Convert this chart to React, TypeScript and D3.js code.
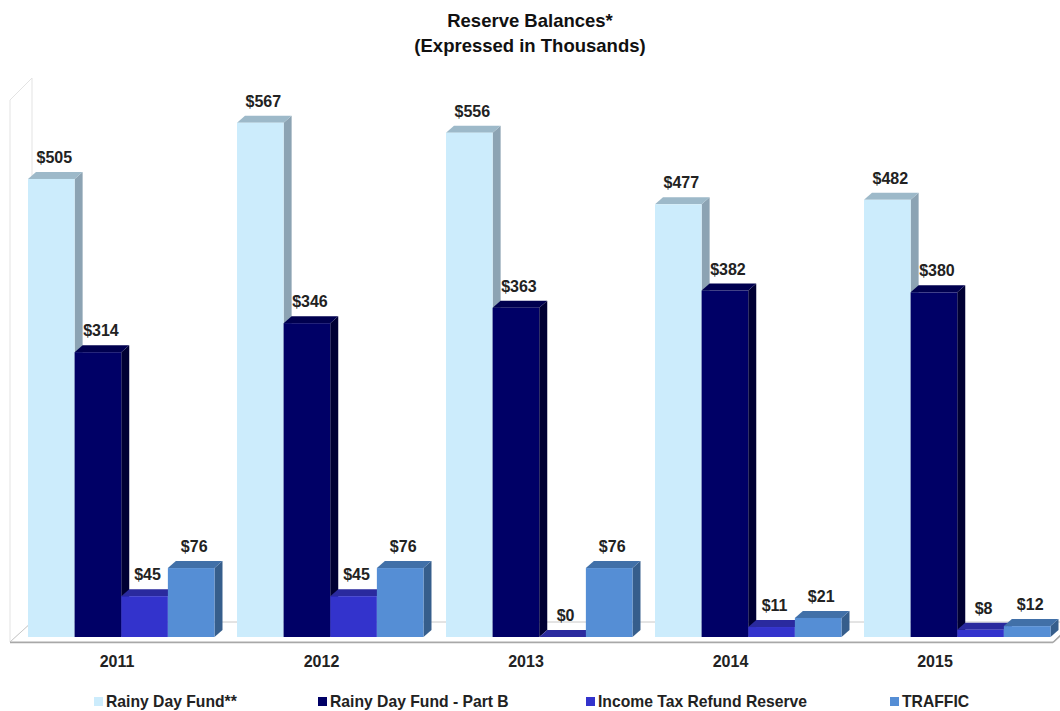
import React from "react";
import * as d3 from "d3";

const years = ["2011", "2012", "2013", "2014", "2015"];
const seriesNames = ["Rainy Day Fund**", "Rainy Day Fund - Part B", "Income Tax Refund Reserve", "TRAFFIC"];
const rainyDay = [505, 567, 556, 477, 482];
const rainyDayB = [314, 346, 363, 382, 380];
const incomeTax = [45, 45, 0, 11, 8];
const traffic = [76, 76, 76, 21, 12];
const seriesValues = [rainyDay, rainyDayB, incomeTax, traffic];

const frontColors = ["#CCECFC", "#000066", "#3333CC", "#558ED5"];
const topColors = ["#9DB9C9", "#00004F", "#2A2A9E", "#4170A8"];
const sideColors = ["#8CA3B3", "#000033", "#22227F", "#365E8C"];

const W = 1060;
const H = 711;
const DX = 8;
const DY = 7;
const BASE = 637;

export default function App() {
  const x0 = d3.scaleBand<string>().domain(years).range([28, 1050.5]).paddingInner(0.1077).paddingOuter(0);
  const x1 = d3.scaleBand<number>().domain(d3.range(seriesNames.length)).range([0, x0.bandwidth()]).padding(0);
  const y = d3.scaleLinear().domain([0, 600]).range([BASE, BASE - 600 * 0.907]);
  const xLabel = d3.scalePoint<string>().domain(years).range([117, 935]);

  const font = "'Liberation Sans', Arial, Helvetica, sans-serif";

  const bars: React.ReactNode[] = [];
  years.forEach((yr, gi) => {
    seriesValues.forEach((vals, si) => {
      const v = vals[gi];
      const x = (x0(yr) as number) + (x1(si) as number);
      const w = x1.bandwidth();
      const yv = y(v);
      const top = `${x},${yv} ${x + DX},${yv - DY} ${x + w + DX},${yv - DY} ${x + w},${yv}`;
      const side = `${x + w},${yv} ${x + w + DX},${yv - DY} ${x + w + DX},${BASE - DY} ${x + w},${BASE}`;
      bars.push(
        <g key={`${gi}-${si}`}>
          <polygon points={side} fill={sideColors[si]} />
          <polygon points={top} fill={topColors[si]} />
          <rect x={x} y={yv} width={w} height={BASE - yv} fill={frontColors[si]} />
        </g>
      );
    });
  });

  const labels: React.ReactNode[] = [];
  years.forEach((yr, gi) => {
    seriesValues.forEach((vals, si) => {
      const v = vals[gi];
      const x = (x0(yr) as number) + (x1(si) as number) + x1.bandwidth() / 2 + 3;
      labels.push(
        <text key={`l${gi}-${si}`} x={x} y={y(v) - 16} textAnchor="middle" fontSize={16} fontWeight="bold" fill="#222" fontFamily={font}>
          {`$${v}`}
        </text>
      );
    });
  });

  const legendX = [94, 318, 586, 890];

  return (
    <svg width={W} height={H} style={{ position: "absolute", left: 0, top: 0, background: "#fff" }}>
      <rect x={0} y={0} width={W} height={H} fill="#fff" />
      <text x={530} y={27} textAnchor="middle" fontSize={18.5} fontWeight="bold" fill="#111" fontFamily={font}>
        Reserve Balances*
      </text>
      <text x={530} y={52} textAnchor="middle" fontSize={18.5} fontWeight="bold" fill="#111" fontFamily={font}>
        (Expressed in Thousands)
      </text>
      {/* left wall */}
      <polygon points="10,100 32,78 32,622 10,642" fill="#fff" stroke="#E3E3E3" strokeWidth={1} />
      {/* floor */}
      <polygon points="10,642 1053,642 1075,622 32,622" fill="#fff" stroke="#C8C8C8" strokeWidth={1} />
      <line x1={10} y1={642.5} x2={1053} y2={642.5} stroke="#A8A8A8" strokeWidth={1.5} />
      <line x1={1053} y1={642.5} x2={1062} y2={634} stroke="#A8A8A8" strokeWidth={1.5} />
      {bars}
      {labels}
      {years.map((yr) => (
        <text key={yr} x={xLabel(yr)} y={667} textAnchor="middle" fontSize={16} fontWeight="bold" fill="#222" fontFamily={font}>
          {yr}
        </text>
      ))}
      {seriesNames.map((name, i) => (
        <g key={name}>
          <rect x={legendX[i]} y={697} width={9} height={9} fill={frontColors[i]} />
          <text x={legendX[i] + 12} y={707} fontSize={15.7} fontWeight="bold" fill="#222" fontFamily={font}>
            {name}
          </text>
        </g>
      ))}
    </svg>
  );
}
